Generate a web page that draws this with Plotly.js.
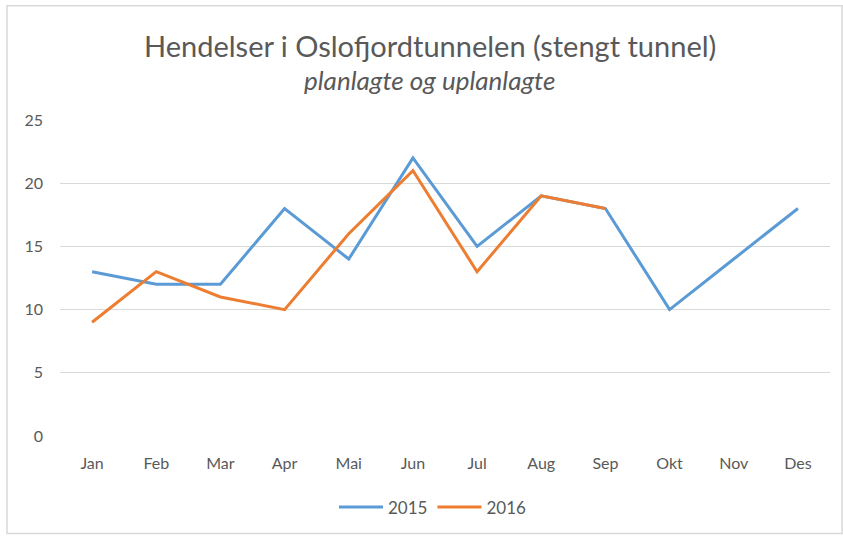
<!DOCTYPE html>
<html><head><meta charset="utf-8">
<script src="https://cdn.plot.ly/plotly-3.0.1.min.js"></script>
<style>html,body{margin:0;padding:0;background:#fff;}</style>
</head><body>
<div id="chart" style="width:843px;height:537px;"></div>
<script>
const months = ["Jan","Feb","Mar","Apr","Mai","Jun","Jul","Aug","Sep","Okt","Nov","Des"];
const values2015 = [13,12,12,18,14,22,15,19,18,10,14,18];
const months2016 = ["Jan","Feb","Mar","Apr","Mai","Jun","Jul","Aug","Sep"];
const values2016 = [9,13,11,10,16,21,13,19,18];
const yTicks = [0,5,10,15,20,25];

const W = 843, H = 537;
const m = {l:60, r:13, t:120, b:99};
const pw = W - m.l - m.r, ph = H - m.t - m.b;
const px = v => (v - m.l) / pw;
const py = v => 1 - (v - m.t) / ph;

const font = "Lato, 'Noto Sans', sans-serif";
const traces = [
  {x: months, y: values2015, name: "2015", type: "scatter", mode: "lines",
   line: {color: "#5B9BD5", width: 3}},
  {x: months2016, y: values2016, name: "2016", type: "scatter", mode: "lines",
   line: {color: "#ED7D31", width: 3}}
];
const layout = {
  width: W, height: H, margin: m,
  paper_bgcolor: "#fff", plot_bgcolor: "#fff",
  font: {family: font, color: "#595959", size: 16},
  showlegend: true,
  legend: {orientation: "h", x: px(433), xanchor: "center", y: py(510), yanchor: "middle",
           font: {size: 17, color: "#595959"}, itemwidth: 44, tracegroupgap: 0},
  xaxis: {type: "category", categoryorder: "array", categoryarray: months,
          range: [-0.5, 11.5], showgrid: false, zeroline: false, showline: false,
          ticks: "", ticklabelstandoff: 16, tickfont: {size: 16, color: "#595959"}, fixedrange: true},
  yaxis: {range: [0, 25], tickvals: yTicks, showgrid: true, gridcolor: "#D9D9D9",
          gridwidth: 1, zeroline: false, showline: false, ticks: "",
          ticklabelstandoff: 16, tickfont: {size: 16, color: "#595959"}, fixedrange: true},
  annotations: [
    {text: "Hendelser i Oslofjordtunnelen (stengt tunnel)", xref: "paper", yref: "paper",
     x: px(430), y: py(45), xanchor: "center", yanchor: "middle", showarrow: false,
     font: {size: 29, color: "#595959", family: font}},
    {text: "<i>planlagte og uplanlagte</i>", xref: "paper", yref: "paper",
     x: px(429), y: py(80), xanchor: "center", yanchor: "middle", showarrow: false,
     font: {size: 26, color: "#595959", family: font}}
  ],
  shapes: [
    {type: "rect", xref: "paper", yref: "paper", x0: px(7), x1: px(842), y0: py(5), y1: py(536),
     line: {color: "#D9D9D9", width: 1.5}, fillcolor: "rgba(0,0,0,0)", layer: "below"}
  ]
};
Plotly.newPlot("chart", traces, layout, {displayModeBar: false, staticPlot: true});
</script>
</body></html>
